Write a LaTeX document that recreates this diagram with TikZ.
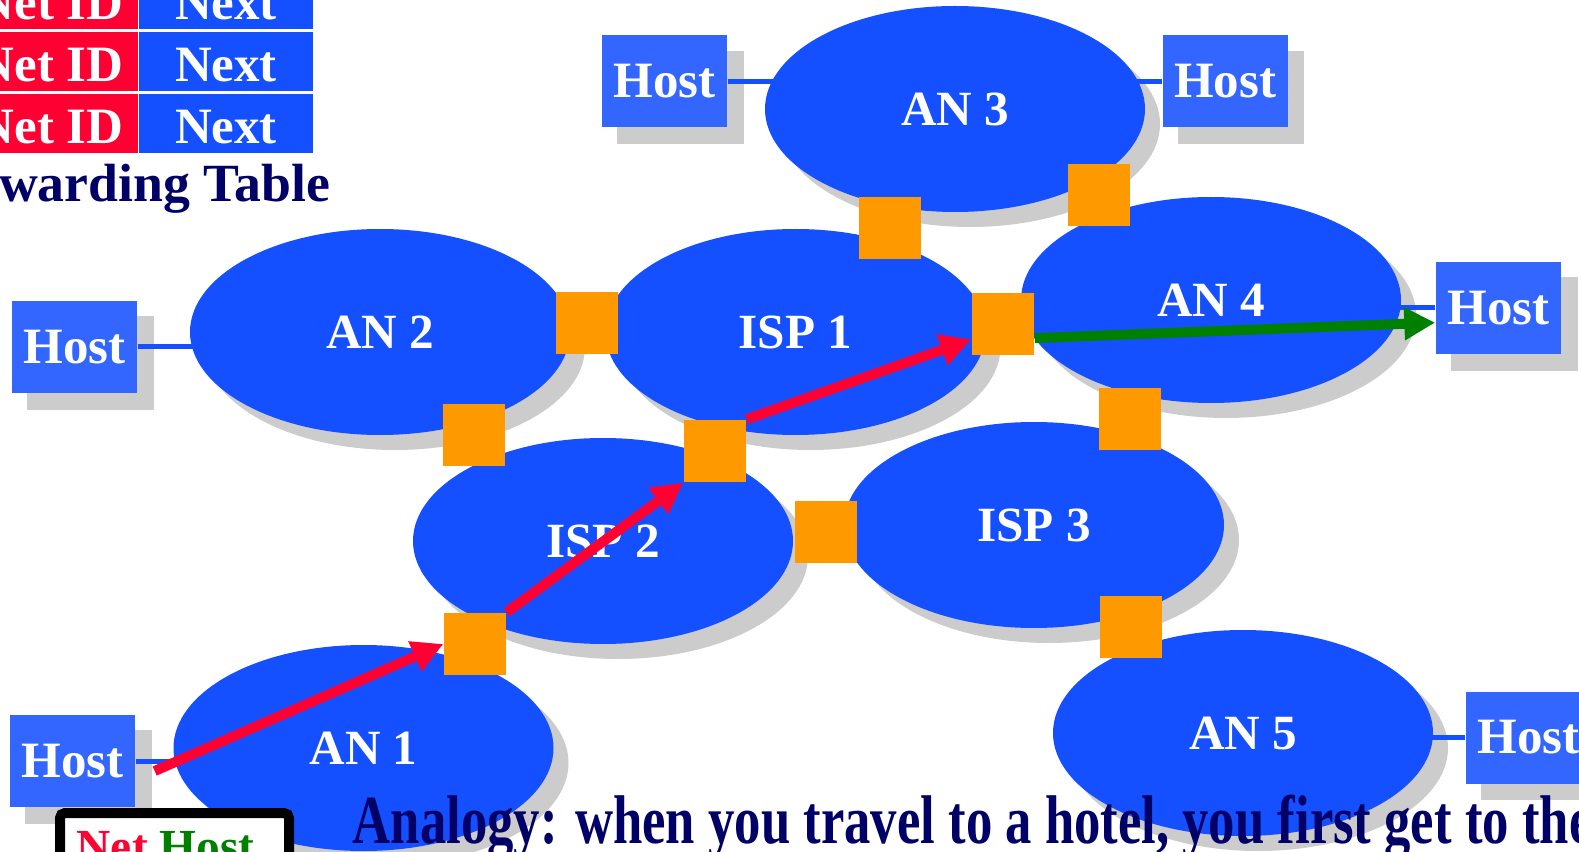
\documentclass[tikz,border=0pt]{standalone}
\usepackage{fontspec}
\setmainfont{Liberation Serif}
\usetikzlibrary{shapes.geometric,arrows.meta,calc}
\definecolor{netblue}{RGB}{20,80,255}
\definecolor{hostblue}{RGB}{51,102,255}
\definecolor{shadowgray}{RGB}{204,204,204}
\definecolor{routerorange}{RGB}{255,153,0}
\definecolor{pathred}{RGB}{255,0,51}
\definecolor{pathgreen}{RGB}{0,128,0}
\definecolor{navy}{RGB}{0,0,102}
\pgfdeclarelayer{shadows}
\pgfdeclarelayer{links}
\pgfsetlayers{shadows,links,main}
\begin{document}
\begin{tikzpicture}[
  net/.style={ellipse, fill=netblue, minimum width=3.8cm, minimum height=2.06cm,
    inner sep=0pt, text=white, font=\bfseries\fontsize{14}{16}\selectfont},
  host/.style={rectangle, fill=hostblue, minimum width=1.25cm, minimum height=0.92cm,
    inner sep=0pt, text=white, font=\bfseries\fontsize{14.5}{16}\selectfont},
  router/.style={rectangle, fill=routerorange, minimum size=0.62cm, inner sep=0pt},
  link/.style={draw=netblue, line width=0.05cm},
  hop/.style={line width=0.1cm, -{Triangle[length=0.31cm,width=0.31cm]}},
  cell/.style={rectangle, minimum width=1.74cm, minimum height=0.59cm, inner sep=0pt,
    text height=0.40cm, text=white, font=\bfseries\fontsize{14.5}{16}\selectfont},
]
\useasboundingbox (0,0) rectangle (15.79,-8.52);
\clip (0,0) rectangle (15.79,-8.52);

% forwarding table
\node[cell, fill=pathred] (n1) at (0.505,0) {Net ID};
\node[cell, fill=netblue] (x1) at (2.26,0) {Next};
\node[cell, fill=pathred] (n2) at (0.505,-0.615) {Net ID};
\node[cell, fill=netblue] (x2) at (2.26,-0.615) {Next};
\node[cell, fill=pathred] (n3) at (0.505,-1.24) {Net ID};
\node[cell, fill=netblue] (x3) at (2.26,-1.24) {Next};
\node[anchor=base east, inner sep=0pt, text=navy, font=\bfseries\fontsize{15.3}{17}\selectfont]
  (ft) at (3.31,-2.02) {Forwarding Table};

% networks
\node[net] (an3)  at (9.55,-1.09)  {AN 3};
\node[net] (an2)  at (3.80,-3.32)  {AN 2};
\node[net] (isp1) at (7.955,-3.32) {ISP 1};
\node[net] (an4)  at (12.11,-3.00) {AN 4};
\node[net] (isp2) at (6.03,-5.41)  {ISP 2};
\node[net] (isp3) at (10.34,-5.25) {ISP 3};
\node[net] (an1)  at (3.635,-7.48) {AN 1};
\node[net] (an5)  at (12.43,-7.33) {AN 5};

% hosts
\node[host] (h2)  at (0.745,-3.47)  {Host};
\node[host] (h3a) at (6.645,-0.815) {Host};
\node[host] (h3b) at (12.25,-0.815) {Host};
\node[host] (h4)  at (14.985,-3.08) {Host};
\node[host] (h1)  at (0.725,-7.61)  {Host};
\node[host] (h5)  at (15.285,-7.375) {Host};

% routers
\node[router] (s1)  at (8.90,-2.28) {};
\node[router] (s2)  at (10.99,-1.95) {};
\node[router] (s3)  at (5.87,-3.23) {};
\node[router] (s4)  at (10.03,-3.24) {};
\node[router] (s5)  at (4.74,-4.35) {};
\node[router] (s6)  at (7.15,-4.51) {};
\node[router] (s7)  at (11.30,-4.19) {};
\node[router] (s8)  at (8.26,-5.32) {};
\node[router] (s9)  at (4.75,-6.44) {};
\node[router] (s10) at (11.31,-6.27) {};

% drop shadows
\begin{pgfonlayer}{shadows}
  \foreach \n in {an1,an2,an3,an4,an5,isp1,isp2,isp3}
    \fill[shadowgray] ([shift={(0.15,-0.15)}]\n.center) ellipse [x radius=1.9cm, y radius=1.03cm];
  \foreach \n in {h1,h2,h3a,h3b,h4,h5}
    \fill[shadowgray] ([shift={(0.16,-0.16)}]\n.south west) rectangle ([shift={(0.16,-0.16)}]\n.north east);
\end{pgfonlayer}

% host attachments
\begin{pgfonlayer}{links}
  \draw[link] (h2.east)  -- (h2.east -| an2.center);
  \draw[link] (h3a.east) -- (h3a.east -| an3.center);
  \draw[link] (h3b.west) -- (h3b.west -| an3.center);
  \draw[link] (h4.west)  -- (h4.west -| an4.center);
  \draw[link] (h1.east)  -- (h1.east -| an1.center);
  \draw[link] (h5.west)  -- (h5.west -| an5.center);
\end{pgfonlayer}

% route of a packet
\coordinate (src) at ($(h1.east)+(0.19,-0.10)$);
\draw[hop, pathred] (src) -- (s9.west);
\draw[hop, pathred] (s9.north east) -- (s6.south west);
\draw[hop, pathred] (s6.north east) -- (s4.206);
\draw[hop, pathgreen] (s4.336) -- (h4.193);

% caption line
\node[anchor=base west, inner sep=0pt, text=navy, font=\bfseries\fontsize{19.6}{22}\selectfont]
  (analogy) at (3.52,-8.43) {\scalebox{0.765}[1]{Analogy: when you travel to a hotel, you first get to the}};

% address key
\node[draw=black, line width=0.1cm, fill=white, rounded corners=0.05cm,
  minimum width=2.29cm, minimum height=1.0cm, anchor=north west, inner sep=0pt] (key) at (0.55,-8.08) {};
\node[anchor=base west, inner sep=0pt, font=\bfseries\fontsize{13.5}{16}\selectfont]
  (keytext) at (0.76,-8.625) {\textcolor{pathred}{Net} \textcolor{pathgreen}{Host}};
\end{tikzpicture}
\end{document}
